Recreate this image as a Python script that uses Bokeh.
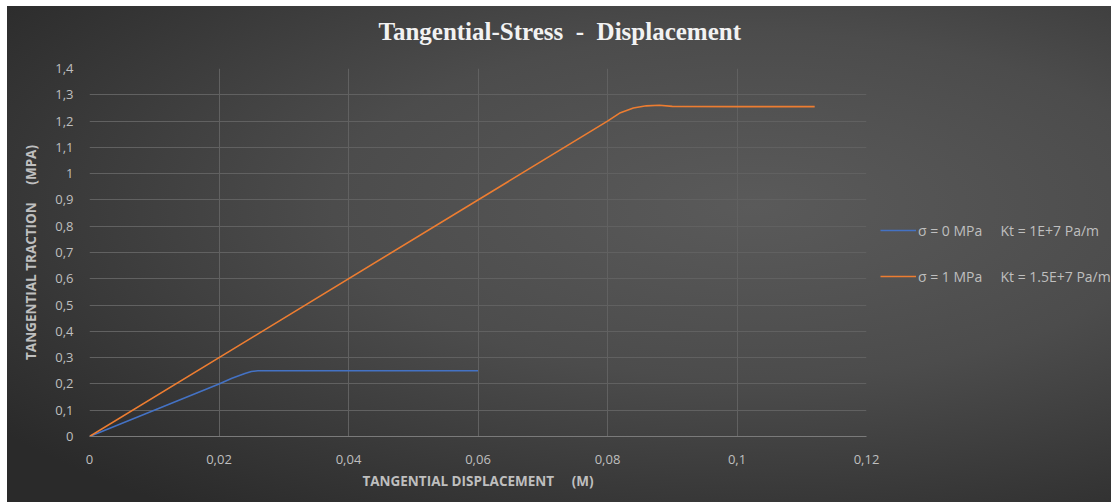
from bokeh.plotting import figure
from bokeh.models import Legend, LegendItem, CustomJSTickFormatter, FixedTicker, Range1d
from bokeh.embed import file_html
from bokeh.resources import INLINE

# ---- data ----
blue_x = [0, 0.02, 0.022, 0.024, 0.025, 0.026, 0.03, 0.04, 0.05, 0.06]
blue_y = [0, 0.2, 0.222, 0.24, 0.247, 0.25, 0.25, 0.25, 0.25, 0.25]
orange_x = [0, 0.08, 0.082, 0.084, 0.086, 0.088, 0.09, 0.1, 0.112]
orange_y = [0, 1.2, 1.232, 1.25, 1.258, 1.26, 1.256, 1.255, 1.255]
blue_label = "σ = 0 MPa\u00a0\u00a0\u00a0\u00a0\u00a0Kt = 1E+7 Pa/m"
orange_label = "σ = 1 MPa\u00a0\u00a0\u00a0\u00a0\u00a0Kt = 1.5E+7 Pa/m"
x_ticks = [0, 0.02, 0.04, 0.06, 0.08, 0.1, 0.12]
y_ticks = [0, 0.1, 0.2, 0.3, 0.4, 0.5, 0.6, 0.7, 0.8, 0.9, 1.0, 1.1, 1.2, 1.3, 1.4]
title_text = "Tangential-Stress\u00a0\u00a0-\u00a0\u00a0Displacement"
x_title = "TANGENTIAL DISPLACEMENT\u00a0\u00a0\u00a0\u00a0\u00a0(M)"
y_title = "TANGENTIAL TRACTION\u00a0\u00a0\u00a0\u00a0\u00a0(MPA)"

bg = ("linear-gradient(#ffffff, #ffffff) top left / 100% 15px no-repeat, "
      "radial-gradient(ellipse 60% 75% at 48% 42%, #5a5a5a 0%, #4c4c4c 45%, #363636 80%, #2a2a2a 100%)")

p = figure(width=1104, height=511, output_backend="svg", toolbar_location=None,
           x_range=Range1d(0, 0.12), y_range=Range1d(0, 1.4),
           frame_width=777, frame_height=368,
           min_border_left=82, min_border_right=245, min_border_top=77, min_border_bottom=66,
           styles={"margin-left": "7px", "margin-top": "-9px", "background": bg})
p.border_fill_alpha = 0
p.background_fill_alpha = 0
p.outline_line_color = None

p.title.text = title_text
p.title.align = "left"
p.title.offset = 289
p.title.text_font = "Liberation Serif"
p.title.text_font_size = "25px"
p.title.text_font_style = "bold"
p.title.text_color = "#f2f2f2"
p.title.standoff = 48

fmt = CustomJSTickFormatter(code="return (Math.round(tick*100)/100).toString().replace('.', ',');")
for ax in (p.xaxis[0], p.yaxis[0]):
    ax.formatter = fmt
    ax.major_tick_line_color = None
    ax.minor_tick_line_color = None
    ax.major_label_text_color = "#bfbfbf"
    ax.major_label_text_font = "Open Sans"
    ax.major_label_text_font_size = "13px"
    ax.axis_label_text_color = "#bfbfbf"
    ax.axis_label_text_font = "Open Sans"
    ax.axis_label_text_font_size = "13.5px"
    ax.axis_label_text_font_style = "bold"
p.xaxis[0].ticker = FixedTicker(ticks=x_ticks)
p.yaxis[0].ticker = FixedTicker(ticks=y_ticks)
p.xaxis[0].axis_line_color = "#7a7a7a"
p.yaxis[0].axis_line_color = None
p.xaxis[0].major_label_standoff = 12
p.yaxis[0].major_label_standoff = 10
p.xaxis[0].axis_label = x_title
p.yaxis[0].axis_label = y_title
p.xaxis[0].axis_label_standoff = 5
p.yaxis[0].axis_label_standoff = 12

p.xgrid.grid_line_color = "#616161"
p.ygrid.grid_line_color = "#616161"
p.xgrid.grid_line_width = 1
p.ygrid.grid_line_width = 1

r1 = p.line(blue_x, blue_y, line_color="#4472C4", line_width=1.6)
r2 = p.line(orange_x, orange_y, line_color="#ED7D31", line_width=1.6)

legend = Legend(items=[LegendItem(label=blue_label, renderers=[r1]),
                       LegendItem(label=orange_label, renderers=[r2])],
                location=(14, 150))
legend.background_fill_alpha = 0
legend.border_line_color = None
legend.label_text_color = "#bfbfbf"
legend.label_text_font = "Open Sans"
legend.label_text_font_size = "14px"
legend.glyph_width = 36
legend.label_standoff = 2
legend.spacing = 26
legend.padding = 0
legend.margin = 0
p.add_layout(legend, "right")

open("out.html", "w").write(file_html(p, INLINE))
